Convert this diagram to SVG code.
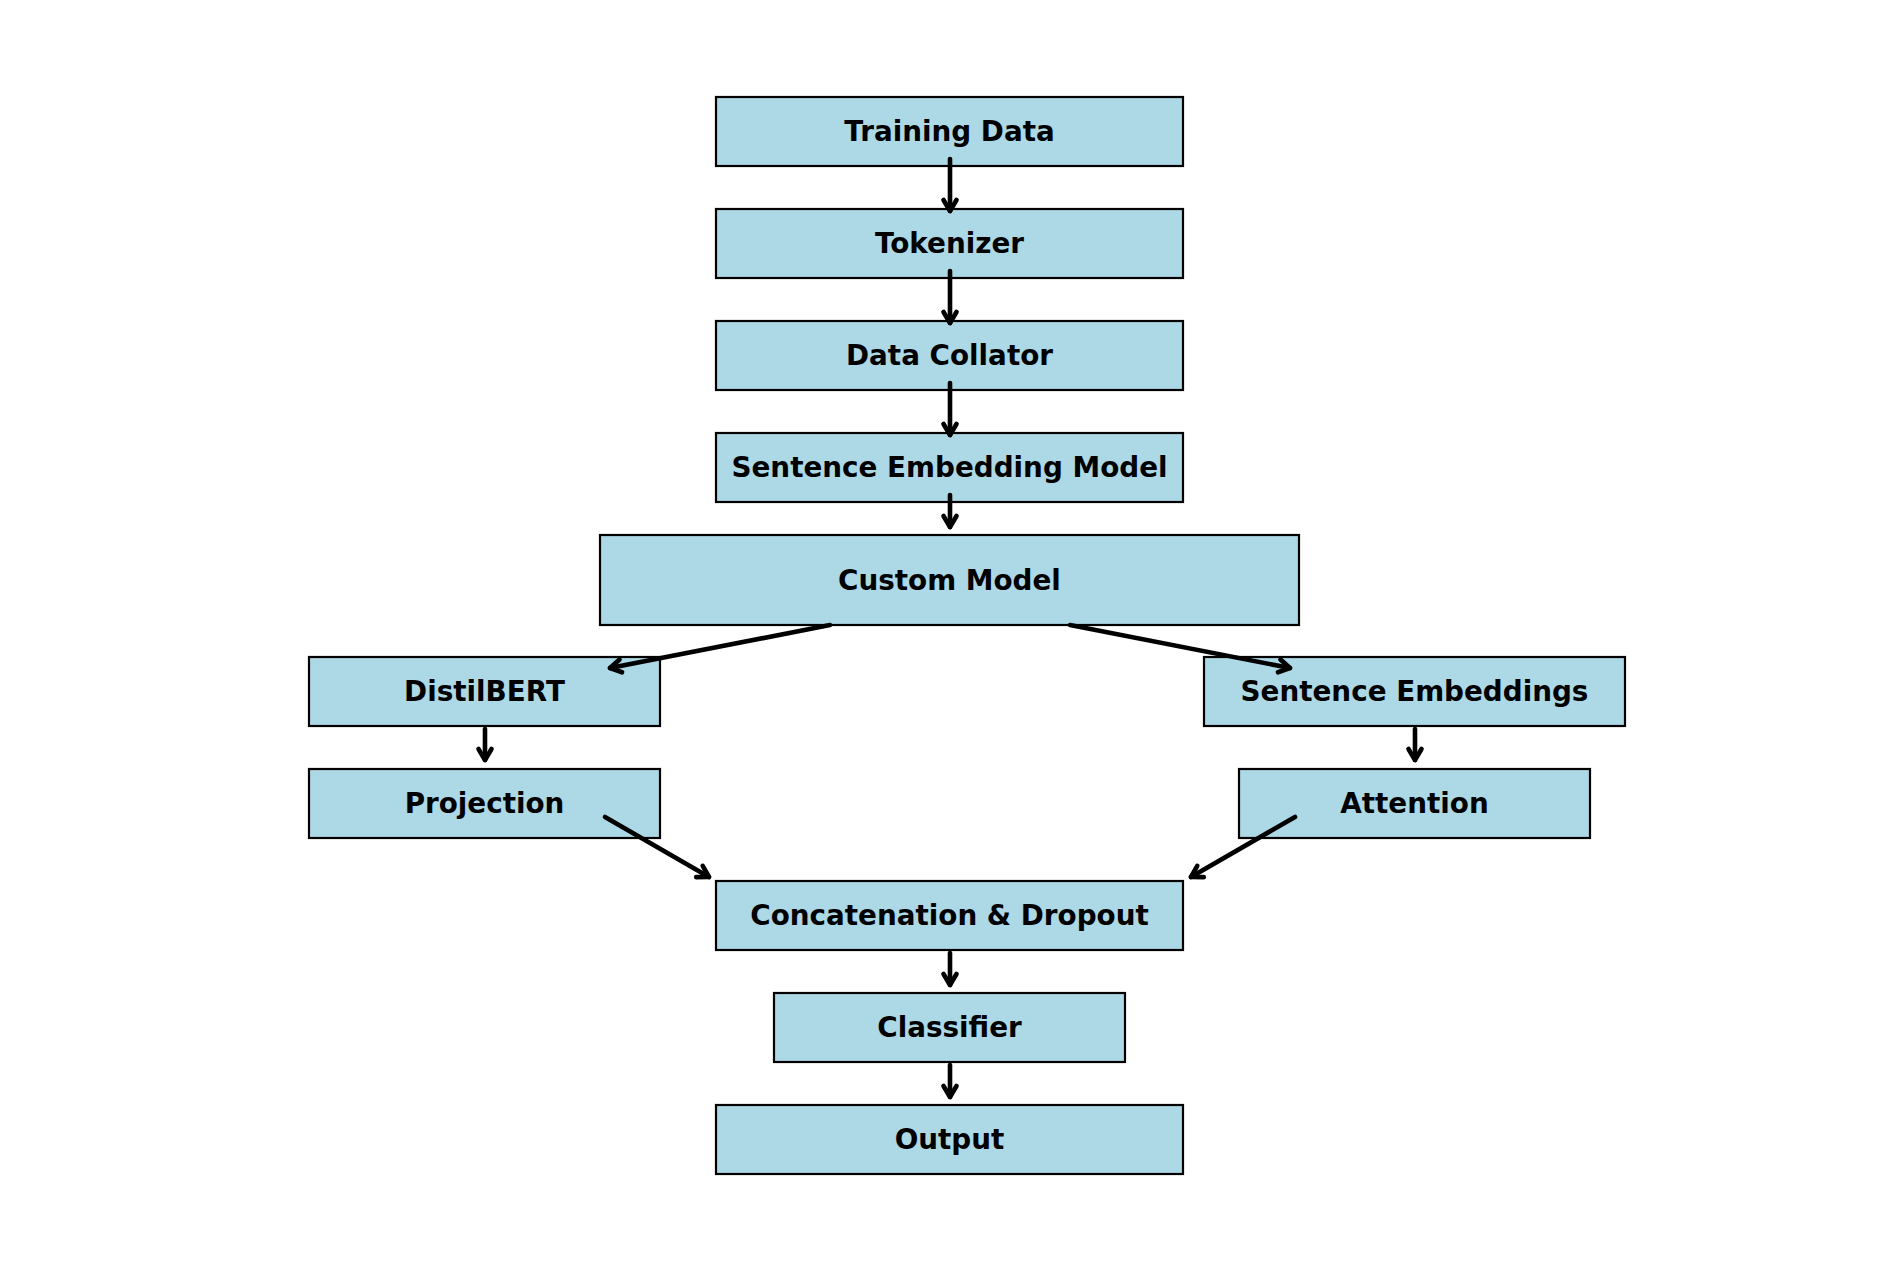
<svg xmlns="http://www.w3.org/2000/svg" width="1900" height="1272" viewBox="0 0 1900 1272">
<style>
.box{fill:#ADD8E6;stroke:#000;stroke-width:2.2}
.lbl{font-family:"DejaVu Sans",sans-serif;font-weight:bold;font-size:27.8px;fill:#000;text-anchor:middle}
.conn{stroke:#000;stroke-width:4.6;fill:none;stroke-linecap:round;marker-end:url(#ah)}
</style>
<defs>
<marker id="ah" markerUnits="userSpaceOnUse" viewBox="-20 -15 30 30" markerWidth="30" markerHeight="30" refX="0" refY="0" orient="auto" overflow="visible">
<path d="M-11,-6.5 L0,0 L-11,6.5" fill="none" stroke="#000" stroke-width="4.6" stroke-linecap="round" stroke-linejoin="round"/>
</marker>
</defs>
<rect width="1900" height="1272" fill="#fff"/>
<g id="n-training"><rect class="box" x="716" y="97" width="467" height="69"/><text class="lbl" x="949.5" y="141">Training Data</text></g>
<g id="n-tokenizer"><rect class="box" x="716" y="209" width="467" height="69"/><text class="lbl" x="949.5" y="253">Tokenizer</text></g>
<g id="n-collator"><rect class="box" x="716" y="321" width="467" height="69"/><text class="lbl" x="949.5" y="365">Data Collator</text></g>
<g id="n-sem"><rect class="box" x="716" y="433" width="467" height="69"/><text class="lbl" x="949.5" y="477">Sentence Embedding Model</text></g>
<g id="n-custom"><rect class="box" x="600" y="535" width="699" height="90"/><text class="lbl" x="949.5" y="589.5">Custom Model</text></g>
<g id="n-distilbert"><rect class="box" x="309" y="657" width="351" height="69"/><text class="lbl" x="484.5" y="701">DistilBERT</text></g>
<g id="n-sentemb"><rect class="box" x="1204" y="657" width="421" height="69"/><text class="lbl" x="1414.5" y="701">Sentence Embeddings</text></g>
<g id="n-projection"><rect class="box" x="309" y="769" width="351" height="69"/><text class="lbl" x="484.5" y="813">Projection</text></g>
<g id="n-attention"><rect class="box" x="1239" y="769" width="351" height="69"/><text class="lbl" x="1414.5" y="813">Attention</text></g>
<g id="n-concat"><rect class="box" x="716" y="881" width="467" height="69"/><text class="lbl" x="949.5" y="925">Concatenation &amp; Dropout</text></g>
<g id="n-classifier"><rect class="box" x="774" y="993" width="351" height="69"/><text class="lbl" x="949.5" y="1037">Classifier</text></g>
<g id="n-output"><rect class="box" x="716" y="1105" width="467" height="69"/><text class="lbl" x="949.5" y="1149">Output</text></g>
<g id="connectors">
<line class="conn" x1="950" y1="159" x2="950" y2="211"/>
<line class="conn" x1="950" y1="271" x2="950" y2="323"/>
<line class="conn" x1="950" y1="383" x2="950" y2="435"/>
<line class="conn" x1="950" y1="495" x2="950" y2="527"/>
<line class="conn" x1="830" y1="625" x2="610" y2="668"/>
<line class="conn" x1="1070" y1="625" x2="1290" y2="668"/>
<line class="conn" x1="485" y1="729" x2="485" y2="760"/>
<line class="conn" x1="1415" y1="729" x2="1415" y2="760"/>
<line class="conn" x1="605" y1="817" x2="709" y2="877"/>
<line class="conn" x1="1295" y1="817" x2="1191" y2="877"/>
<line class="conn" x1="950" y1="953" x2="950" y2="985"/>
<line class="conn" x1="950" y1="1065" x2="950" y2="1097"/>
</g>
</svg>
